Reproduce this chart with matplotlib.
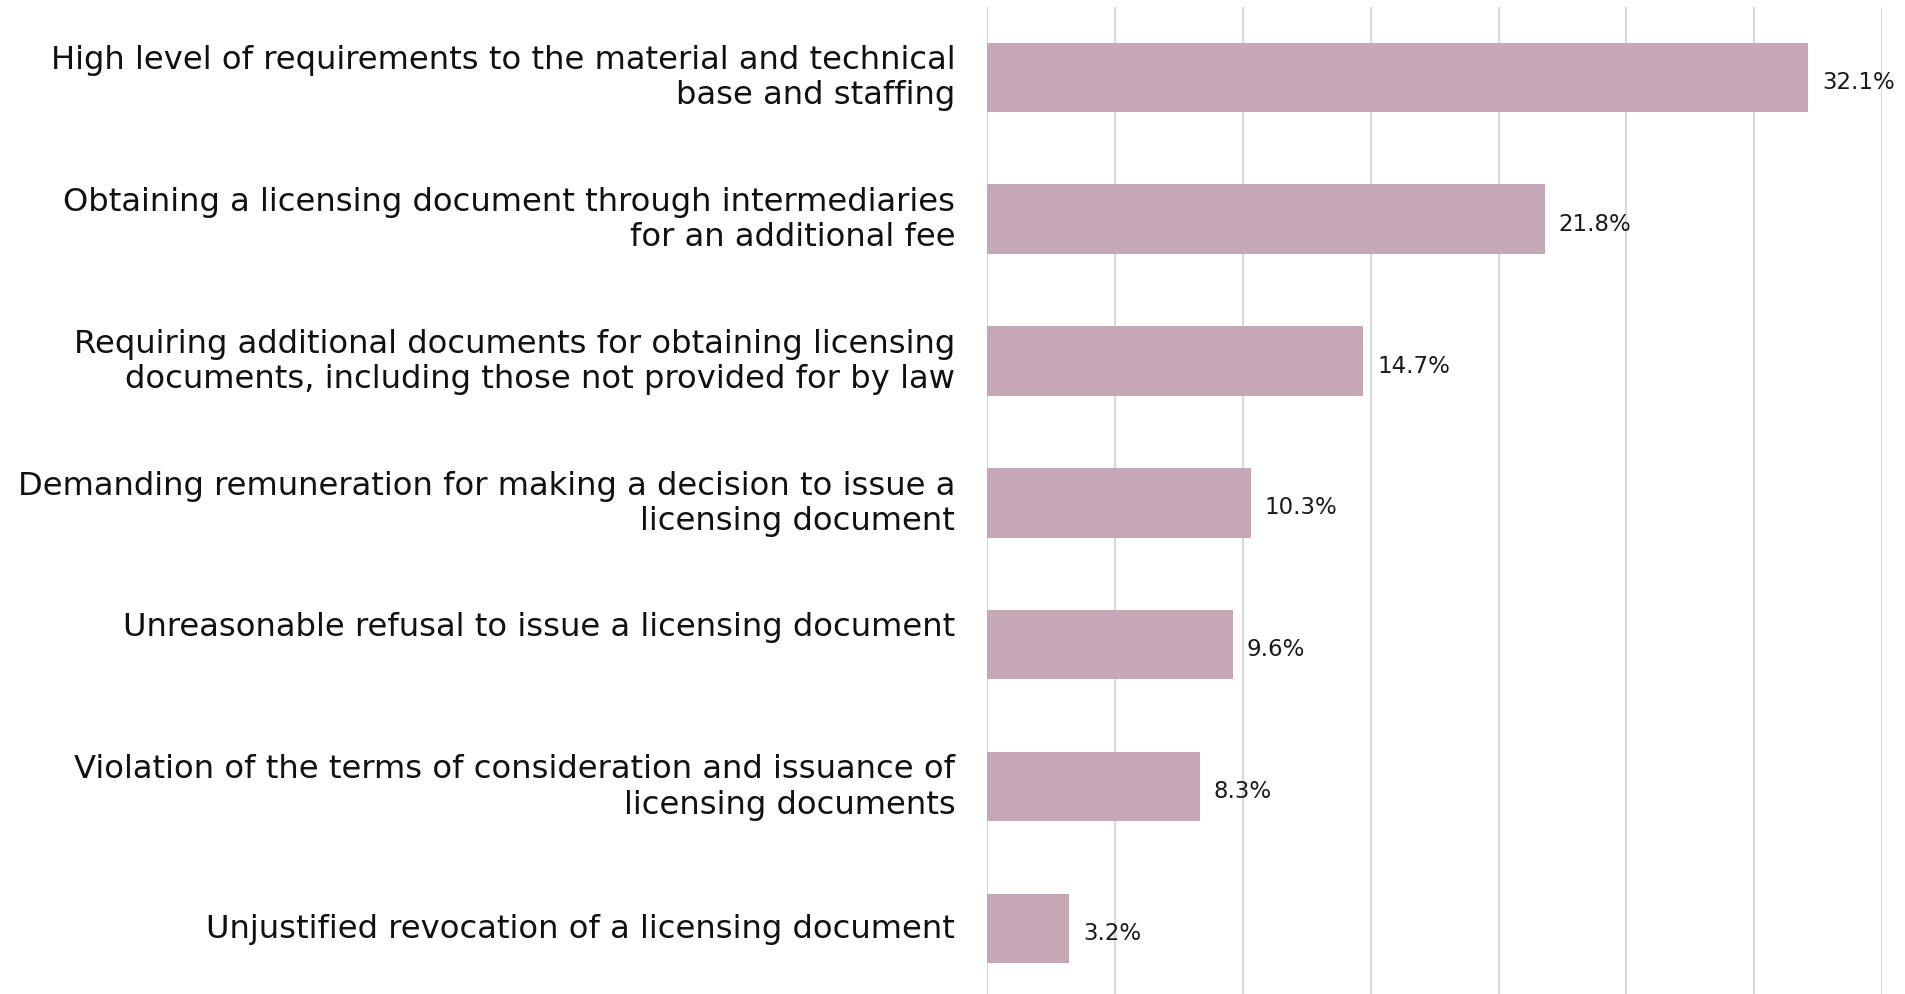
import matplotlib
matplotlib.use("Agg")
import matplotlib.pyplot as plt

categories = [
    "High level of requirements to the material and technical\nbase and staffing",
    "Obtaining a licensing document through intermediaries\nfor an additional fee",
    "Requiring additional documents for obtaining licensing\ndocuments, including those not provided for by law",
    "Demanding remuneration for making a decision to issue a\nlicensing document",
    "Unreasonable refusal to issue a licensing document\n ",
    "Violation of the terms of consideration and issuance of\nlicensing documents",
    "Unjustified revocation of a licensing document",
]
values = [32.1, 21.8, 14.7, 10.3, 9.6, 8.3, 3.2]
value_labels = ["32.1%", "21.8%", "14.7%", "10.3%", "9.6%", "8.3%", "3.2%"]
xticks = [0, 5, 10, 15, 20, 25, 30, 35]

fig = plt.figure(figsize=(19.06, 9.95), dpi=100)
ax = fig.add_axes([0.518, 0.0, 0.4695, 0.992])

y = list(range(len(categories)))
ax.barh(y, values, height=0.49, color="#C5A7B5", zorder=2)
ax.set_ylim(6.463, -0.496)
ax.set_xlim(0, 35)
ax.set_xticks(xticks)
ax.xaxis.grid(True, color="#D9D9D9", linewidth=1.5, zorder=0)
ax.tick_params(axis="x", length=0, labelbottom=False)
ax.tick_params(axis="y", length=0, pad=23)
ax.set_yticks(y)
ax.set_yticklabels(categories, fontsize=23.2, family="DejaVu Sans", color="#111111",
                   ha="right", linespacing=1.18)
for lbl in ax.get_yticklabels():
    lbl.set_verticalalignment("center")
for s in ax.spines.values():
    s.set_visible(False)

for yi, v, lab in zip(y, values, value_labels):
    ax.annotate(lab, (v, yi), xytext=(10, -3), textcoords="offset points",
                va="center", ha="left", fontsize=16.5, color="#1a1a1a",
                family="DejaVu Sans", annotation_clip=False)

fig.savefig("out.png", dpi=100)
